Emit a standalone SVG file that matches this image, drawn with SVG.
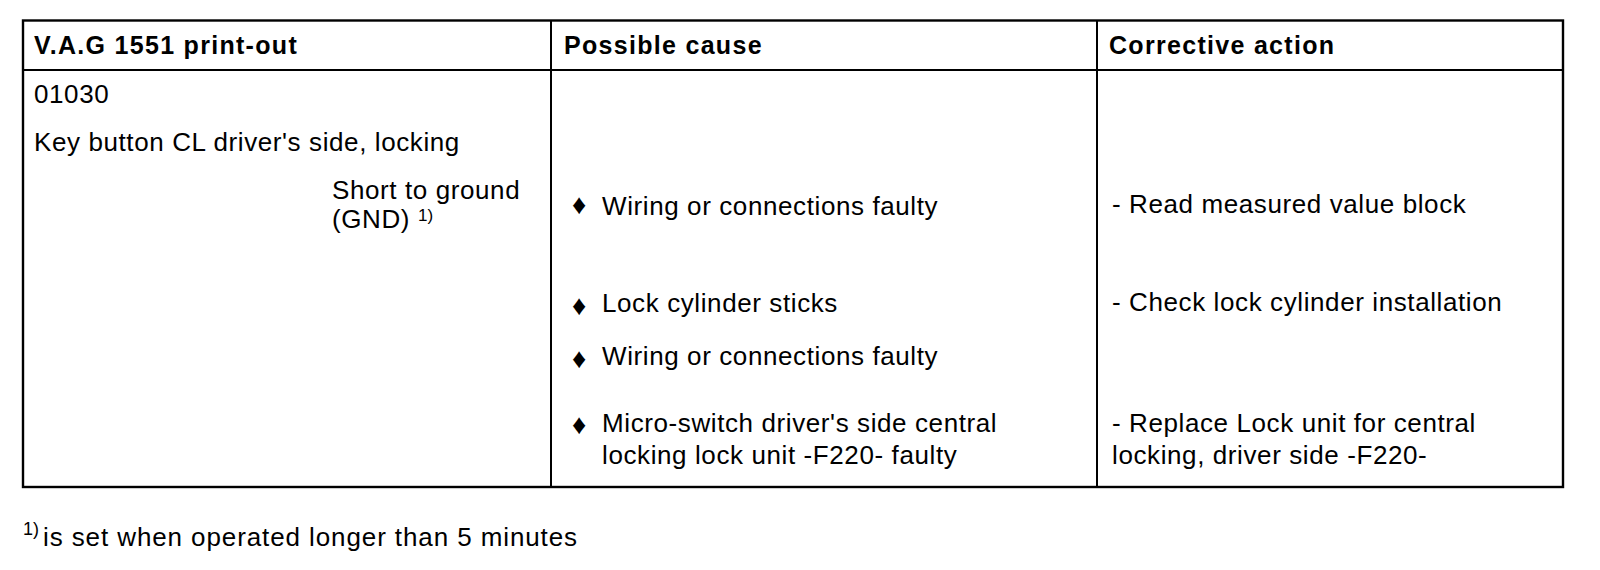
<svg xmlns="http://www.w3.org/2000/svg" width="1600" height="570" viewBox="0 0 1600 570">
<style>
.t{font-family:"Liberation Sans",Arial,sans-serif;font-size:26px;letter-spacing:0.6px;fill:#000}
.h{font-family:"Liberation Sans",Arial,sans-serif;font-size:25px;font-weight:bold;letter-spacing:1.3px;fill:#000}
.sup{font-family:"Liberation Sans",Arial,sans-serif;font-size:18px;letter-spacing:0;fill:#000}
.b{font-family:"Liberation Sans","DejaVu Sans",sans-serif;font-size:28px;fill:#000}
.ln{stroke:#000;stroke-width:2;fill:none}
</style>
<rect width="1600" height="570" fill="#fff"/>
<g id="grid">
<rect x="23" y="20.5" width="1540" height="466.5" fill="none" stroke="#000" stroke-width="2.4"/>
<line class="ln" x1="23" y1="70" x2="1563" y2="70"/>
<line class="ln" x1="551" y1="20.5" x2="551" y2="487"/>
<line class="ln" x1="1097" y1="20.5" x2="1097" y2="487"/>
</g>
<g id="header">
<text class="h" x="34" y="54">V.A.G 1551 print-out</text>
<text class="h" x="564" y="54">Possible cause</text>
<text class="h" x="1109" y="54">Corrective action</text>
</g>
<g id="printout">
<text class="t" x="34" y="103">01030</text>
<text class="t" x="34" y="151">Key button CL driver's side, locking</text>
<text class="t" x="332" y="199">Short to ground</text>
<text class="t" x="332" y="228">(GND)</text>
<text class="sup" x="418" y="221" style="font-size:17px">1)</text>
</g>
<g id="causes">
<text class="b" x="572" y="214">♦</text>
<text class="t" x="602" y="215">Wiring or connections faulty</text>
<text class="b" x="572" y="315">♦</text>
<text class="t" x="602" y="312">Lock cylinder sticks</text>
<text class="b" x="572" y="368">♦</text>
<text class="t" x="602" y="365">Wiring or connections faulty</text>
<text class="b" x="572" y="434">♦</text>
<text class="t" x="602" y="432">Micro-switch driver's side central</text>
<text class="t" x="602" y="464">locking lock unit -F220- faulty</text>
</g>
<g id="actions">
<text class="t" x="1112" y="213">- Read measured value block</text>
<text class="t" x="1112" y="311">- Check lock cylinder installation</text>
<text class="t" x="1112" y="432">- Replace Lock unit for central</text>
<text class="t" x="1112" y="464">locking, driver side -F220-</text>
</g>
<g id="footnote">
<text class="sup" x="23" y="535">1)</text>
<text class="t" x="43" y="546" style="letter-spacing:0.9px">is set when operated longer than 5 minutes</text>
</g>
</svg>
